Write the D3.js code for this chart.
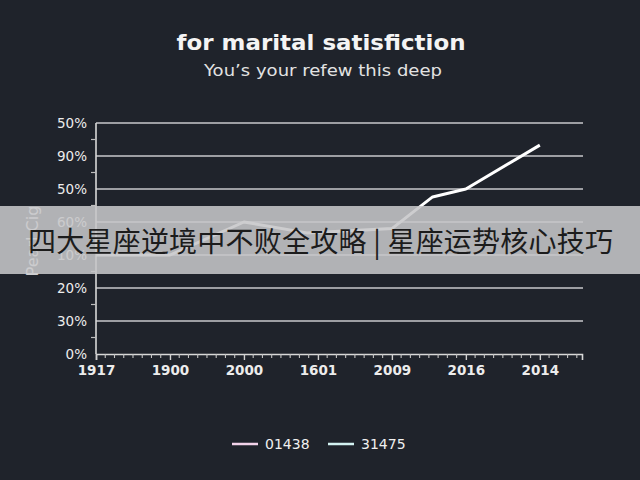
<!DOCTYPE html>
<html>
<head>
<meta charset="utf-8">
<script src="https://cdn.jsdelivr.net/npm/d3@7"></script>
<style>
html,body{margin:0;padding:0;background:#1f232b;}
svg{display:block;}
</style>
</head>
<body>
<svg id="c" width="640" height="480"></svg>
<script>
// ---- data ----
const xTickLabels = ["1917","1900","2000","1601","2009","2016","2014"];
const yTickLabels = ["0%","30%","20%","10%","60%","50%","90%","50%"];
const seriesX = [0, 1, 2, 2.85, 4, 4.55, 5, 6];
const seriesY = [30, 30, 40, 36.7, 38, 47.6, 50, 63.3];
const legendLabels = ["01438", "31475"];
const legendColors = ["#f2d3ea", "#d3f2f2"];
const titleText = "for marital satisfiction";
const subtitleText = "You\u2019s your refew this deep";
const yAxisTitle = "Pearl Cig";
const bannerText = "四大星座逆境中不败全攻略 | 星座运势核心技巧";

// ---- layout ----
const svg = d3.select("#c");
const W = 640, H = 480;
const m = {left: 96, right: 58, top: 123, bottom: 126};
const x = d3.scaleLinear().domain([0, 6.57]).range([m.left, W - m.right]);
const y = d3.scaleLinear().domain([0, 70]).range([H - m.bottom, m.top]);
const font = "'DejaVu Sans', Verdana, sans-serif";

svg.append("rect").attr("width", W).attr("height", H).attr("fill", "#1f232b");

// title
svg.append("text").attr("x", 321).attr("y", 50).attr("text-anchor", "middle")
  .attr("font-family", font).attr("font-weight", "bold").attr("font-size", 21)
  .attr("fill", "#f4f4f4").attr("textLength", 289).attr("lengthAdjust", "spacingAndGlyphs")
  .text(titleText);
svg.append("text").attr("x", 323).attr("y", 76).attr("text-anchor", "middle")
  .attr("font-family", font).attr("font-size", 15)
  .attr("fill", "#e2e2e2").attr("textLength", 238).attr("lengthAdjust", "spacingAndGlyphs")
  .text(subtitleText);

// gridlines
const yVals = d3.range(0, 80, 10);
svg.append("g").selectAll("line").data(yVals.slice(1)).join("line")
  .attr("x1", m.left).attr("x2", W - m.right + 1)
  .attr("y1", d => y(d)).attr("y2", d => y(d))
  .attr("stroke", "#c9c9cc").attr("stroke-width", 1.6);

// y axis
const yAxis = d3.axisLeft(y).tickValues(yVals)
  .tickFormat((d, i) => yTickLabels[i]).tickSize(0).tickPadding(9);
const gy = svg.append("g").attr("transform", `translate(${m.left},0)`).call(yAxis);
gy.select(".domain").remove();
gy.selectAll("text").attr("font-family", font).attr("font-size", 13.5)
  .attr("fill", "#ececec");
svg.append("line").attr("x1", m.left).attr("x2", m.left)
  .attr("y1", y(70)).attr("y2", y(0)).attr("stroke", "#d8d8d8").attr("stroke-width", 1.6);
svg.append("g").selectAll("line").data(d3.range(5, 70, 10)).join("line")
  .attr("x1", m.left - 5).attr("x2", m.left)
  .attr("y1", d => y(d)).attr("y2", d => y(d))
  .attr("stroke", "#bdbdbd").attr("stroke-width", 1.2);

// x axis
const xAxis = d3.axisBottom(x).tickValues(d3.range(0, 7))
  .tickFormat((d, i) => xTickLabels[i]).tickSize(6).tickPadding(5);
const gx = svg.append("g").attr("transform", `translate(0,${y(0)})`).call(xAxis);
gx.select(".domain").attr("stroke", "#d8d8d8").attr("stroke-width", 1.6);
gx.selectAll(".tick line").attr("stroke", "#d0d0d0").attr("stroke-width", 1.4);
gx.selectAll("text").attr("font-family", font).attr("font-size", 13.5)
  .attr("font-weight", "bold").attr("fill", "#ececec");
svg.append("g").selectAll("line").data(d3.range(0, 6.57, 0.125).filter(v => Math.abs(v - Math.round(v)) > 0.01)).join("line")
  .attr("x1", d => x(d)).attr("x2", d => x(d))
  .attr("y1", y(0)).attr("y2", y(0) + 4)
  .attr("stroke", "#c4c4c4").attr("stroke-width", 1.1);

// y axis title
svg.append("text").attr("transform", "translate(38,241) rotate(-90)")
  .attr("text-anchor", "middle").attr("font-family", font).attr("font-size", 16)
  .attr("fill", "#f0f0f0").text(yAxisTitle);

// series line
const pts = seriesX.map((v, i) => [v, seriesY[i]]);
svg.append("path").datum(pts)
  .attr("d", d3.line().x(d => x(d[0])).y(d => y(d[1])))
  .attr("fill", "none").attr("stroke", "#ffffff").attr("stroke-width", 3)
  .attr("stroke-linejoin", "round");

// legend
const lg = svg.append("g").attr("transform", "translate(232,444)");
const lx = [0, 96];
legendLabels.forEach((t, i) => {
  lg.append("line").attr("x1", lx[i]).attr("x2", lx[i] + 26).attr("y1", 0).attr("y2", 0)
    .attr("stroke", legendColors[i]).attr("stroke-width", 2.5);
  lg.append("text").attr("x", lx[i] + 33).attr("y", 5).attr("font-family", font)
    .attr("font-size", 14).attr("fill", "#f0f0f0").text(t);
});

// banner overlay
svg.append("rect").attr("x", 0).attr("y", 206).attr("width", W).attr("height", 68)
  .attr("fill", "#c6c6c8").attr("opacity", 0.88);
svg.append("text").attr("x", 28).attr("y", 252)
  .attr("font-family", "'Noto Sans CJK SC', sans-serif").attr("font-size", 28)
  .attr("fill", "#1c1c1c").attr("textLength", 585).text(bannerText);
</script>
</body>
</html>
